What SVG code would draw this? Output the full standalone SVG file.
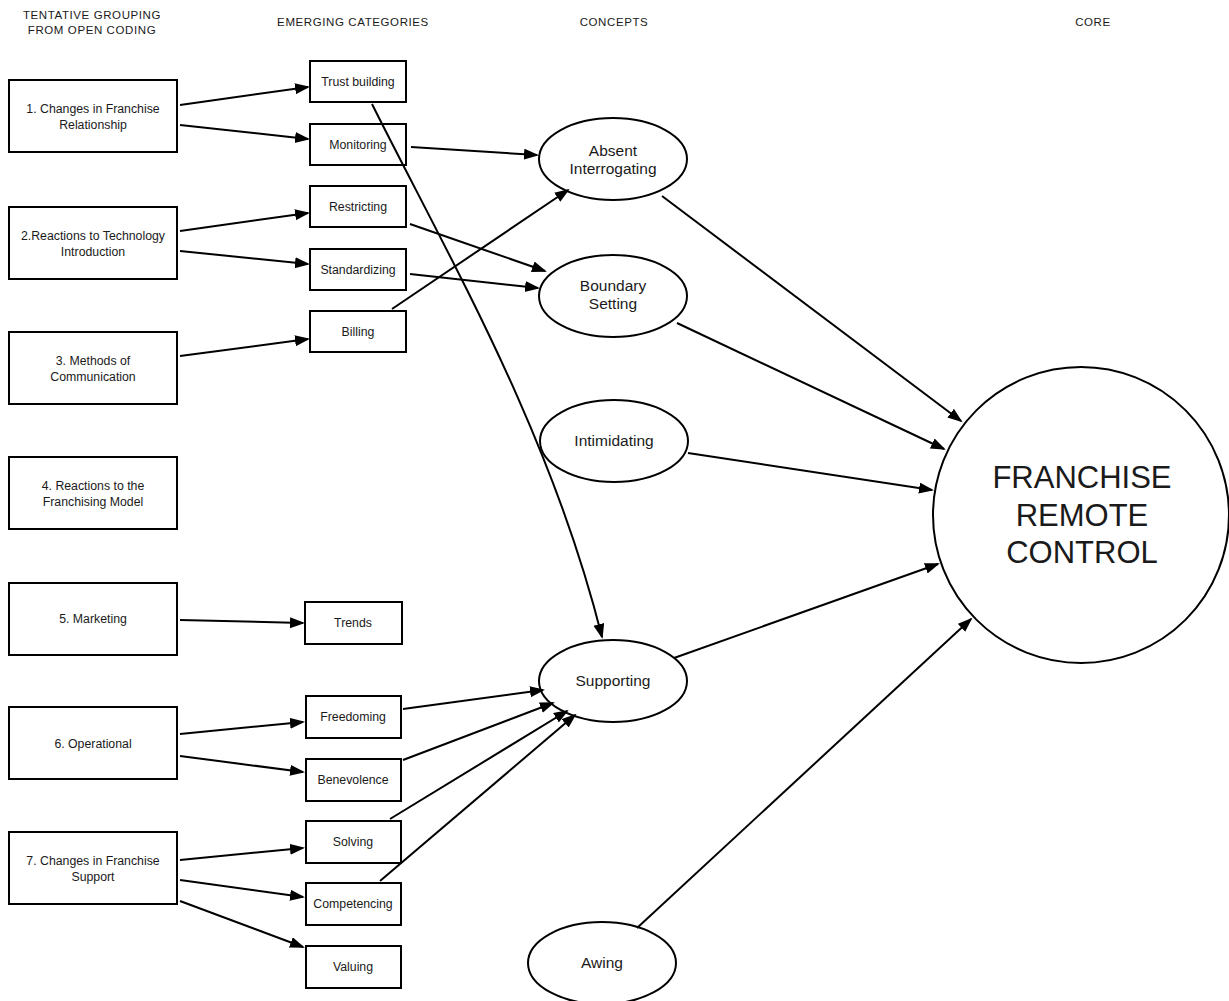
<svg xmlns="http://www.w3.org/2000/svg" width="1229" height="1001" viewBox="0 0 1229 1001">
<style>
text{font-family:"Liberation Sans",Arial,sans-serif;fill:#1a1a1a;text-anchor:middle}
.hd{font-size:11.5px;letter-spacing:0.6px}
.lb{font-size:12.3px}
.mb{font-size:12.3px}
.el{font-size:15.5px}
.core{font-size:31px}
rect,ellipse,circle{fill:#fff;stroke:#000;stroke-width:2}
.c path,.c line{fill:none;stroke:#000;stroke-width:2;marker-end:url(#ah)}
</style>
<defs>
<marker id="ah" markerUnits="userSpaceOnUse" markerWidth="16" markerHeight="12" refX="13" refY="5.5" orient="auto">
<path d="M0,0 L15,5.5 L0,11 z" fill="#000"/>
</marker>
</defs>
<rect x="0" y="0" width="1229" height="1001" style="fill:#fff;stroke:none"/>
<g id="headers">
<text class="hd" x="92" y="19">TENTATIVE GROUPING</text>
<text class="hd" x="92" y="34">FROM OPEN CODING</text>
<text class="hd" x="353" y="26">EMERGING CATEGORIES</text>
<text class="hd" x="614" y="26">CONCEPTS</text>
<text class="hd" x="1093" y="26">CORE</text>
</g>
<g id="g1"><rect x="9" y="80" width="168" height="72"/><text class="lb" x="93" y="113">1. Changes in Franchise</text><text class="lb" x="93" y="129">Relationship</text></g>
<g id="g2"><rect x="9" y="207" width="168" height="72"/><text class="lb" x="93" y="240">2.Reactions to Technology</text><text class="lb" x="93" y="256">Introduction</text></g>
<g id="g3"><rect x="9" y="332" width="168" height="72"/><text class="lb" x="93" y="365">3. Methods of</text><text class="lb" x="93" y="381">Communication</text></g>
<g id="g4"><rect x="9" y="457" width="168" height="72"/><text class="lb" x="93" y="490">4. Reactions to the</text><text class="lb" x="93" y="506">Franchising Model</text></g>
<g id="g5"><rect x="9" y="583" width="168" height="72"/><text class="lb" x="93" y="623">5. Marketing</text></g>
<g id="g6"><rect x="9" y="707" width="168" height="72"/><text class="lb" x="93" y="748">6. Operational</text></g>
<g id="g7"><rect x="9" y="832" width="168" height="72"/><text class="lb" x="93" y="865">7. Changes in Franchise</text><text class="lb" x="93" y="881">Support</text></g>
<g id="trust"><rect x="310" y="61" width="96" height="41"/><text class="mb" x="358" y="86">Trust building</text></g>
<g id="monitoring"><rect x="310" y="124" width="96" height="41"/><text class="mb" x="358" y="149">Monitoring</text></g>
<g id="restricting"><rect x="310" y="186" width="96" height="41"/><text class="mb" x="358" y="211">Restricting</text></g>
<g id="standardizing"><rect x="310" y="249" width="96" height="41"/><text class="mb" x="358" y="274">Standardizing</text></g>
<g id="billing"><rect x="310" y="311" width="96" height="41"/><text class="mb" x="358" y="336">Billing</text></g>
<g id="trends"><rect x="305" y="602" width="97" height="42"/><text class="mb" x="353" y="627">Trends</text></g>
<g id="freedoming"><rect x="306" y="696" width="95" height="42"/><text class="mb" x="353" y="721">Freedoming</text></g>
<g id="benevolence"><rect x="306" y="759" width="95" height="42"/><text class="mb" x="353" y="784">Benevolence</text></g>
<g id="solving"><rect x="306" y="821" width="95" height="42"/><text class="mb" x="353" y="846">Solving</text></g>
<g id="competencing"><rect x="306" y="883" width="95" height="42"/><text class="mb" x="353" y="908">Competencing</text></g>
<g id="valuing"><rect x="306" y="946" width="95" height="42"/><text class="mb" x="353" y="971">Valuing</text></g>
<g id="absent"><ellipse cx="613" cy="159" rx="74" ry="41"/><text class="el" x="613" y="156">Absent</text><text class="el" x="613" y="174">Interrogating</text></g>
<g id="boundary"><ellipse cx="613" cy="296" rx="74" ry="41"/><text class="el" x="613" y="291">Boundary</text><text class="el" x="613" y="309">Setting</text></g>
<g id="intimidating"><ellipse cx="614" cy="441" rx="74" ry="41"/><text class="el" x="614" y="446">Intimidating</text></g>
<g id="supporting"><ellipse cx="613" cy="681" rx="74" ry="41"/><text class="el" x="613" y="686">Supporting</text></g>
<g id="awing"><ellipse cx="602" cy="963" rx="74" ry="41"/><text class="el" x="602" y="968">Awing</text></g>
<g id="core"><circle cx="1081" cy="515" r="148"/><text class="core" x="1082" y="488">FRANCHISE</text><text class="core" x="1082" y="526">REMOTE</text><text class="core" x="1082" y="563">CONTROL</text></g>
<g class="c" id="connectors">
<line x1="180" y1="105" x2="308" y2="87"/>
<line x1="180" y1="125" x2="308" y2="139"/>
<line x1="180" y1="231" x2="308" y2="213"/>
<line x1="180" y1="251" x2="308" y2="264"/>
<line x1="180" y1="356" x2="308" y2="339"/>
<line x1="180" y1="620" x2="303" y2="623"/>
<line x1="180" y1="734" x2="303" y2="722"/>
<line x1="180" y1="756" x2="303" y2="772"/>
<line x1="180" y1="860" x2="303" y2="848"/>
<line x1="180" y1="880" x2="303" y2="897"/>
<line x1="180" y1="901" x2="303" y2="947"/>
<line x1="411" y1="147" x2="537" y2="155"/>
<line x1="410" y1="224" x2="545" y2="271"/>
<line x1="410" y1="274" x2="538" y2="288"/>
<line x1="392" y1="309" x2="568" y2="190"/>
<path d="M372,104 C450,260 550,430 602,637"/>
<line x1="403" y1="709" x2="543" y2="690"/>
<line x1="403" y1="760" x2="553" y2="703"/>
<line x1="390" y1="819" x2="567" y2="711"/>
<line x1="380" y1="881" x2="575" y2="715"/>
<line x1="662" y1="196" x2="961" y2="421"/>
<line x1="677" y1="323" x2="944" y2="449"/>
<line x1="688" y1="453" x2="932" y2="490"/>
<line x1="674" y1="658" x2="938" y2="564"/>
<line x1="637" y1="928" x2="971" y2="619"/>
</g>
</svg>
